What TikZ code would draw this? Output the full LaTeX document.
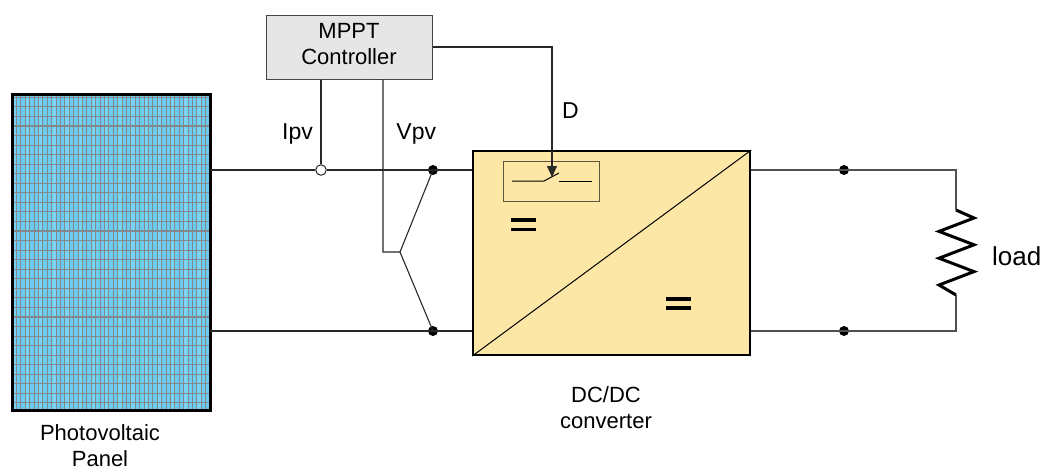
\documentclass[tikz,border=0pt]{standalone}
\usepackage{fontspec}
\setmainfont{Liberation Sans}
\usetikzlibrary{arrows.meta,calc}

\definecolor{pvblue}{RGB}{120,212,245}
\definecolor{pvband}{RGB}{108,204,240}
\definecolor{gridgray}{RGB}{132,136,140}
\definecolor{convfill}{RGB}{253,231,166}
\definecolor{ctrlfill}{RGB}{230,230,230}
\definecolor{ctrledge}{RGB}{70,70,70}
\definecolor{swedge}{RGB}{95,85,60}
\definecolor{wirecol}{RGB}{40,40,40}
\definecolor{wiregray}{RGB}{80,80,80}

\begin{document}
\begin{tikzpicture}[x=1pt,y=-1pt,
  wire/.style={draw=wirecol, line width=1.1},
  rwire/.style={draw=wiregray, line width=1.1},
  lbl/.style={font=\fontsize{23}{27}\selectfont, inner sep=0},
  captext/.style={font=\fontsize{22}{26}\selectfont, inner sep=0},
  soliddot/.style={circle, fill=black, inner sep=0, minimum size=10},
  opendot/.style={circle, draw=wirecol, fill=white, line width=1, inner sep=0, minimum size=10.5},
  eqbar/.style={fill=black}]

\useasboundingbox (0,0) rectangle (1046,469);

% photovoltaic panel with its cell grid
\node[fill=pvblue, minimum width=198, minimum height=316,
      inner sep=0, anchor=north west] (panel) at (12,94) {};
\begin{scope}
  \clip (panel.north west) rectangle (panel.south east);
  \foreach \i in {0,3,...,42}
    \fill[pvband] ({16.3+4.4*\i},94) rectangle ++(8.8,316);
  \foreach \i in {0,...,43}
    \draw[gridgray, line width=0.5] ({16.3+4.4*\i},94) -- ++(0,316);
  \foreach \j in {0,...,32}
    \draw[gridgray, line width=1.1] (12,{97.3+9.55*\j}) -- ++(198,0);
\end{scope}
\draw[line width=3] (panel.north west) rectangle (panel.south east);
\node[captext, anchor=base] (pvlbl) at (100,440.7) {Photovoltaic};
\node[captext, anchor=base] (pvlbl2) at (100,466) {Panel};

% MPPT controller
\node[draw=ctrledge, fill=ctrlfill, line width=1, minimum width=166, minimum height=64,
      align=center, captext] (mppt) at (349,47)
      {MPPT\\Controller\rule[-6pt]{0pt}{6pt}};

% DC/DC converter block
\node[draw=black, line width=2, fill=convfill, minimum width=277, minimum height=204,
      inner sep=0, anchor=north west] (conv) at (472.3,150) {};
\draw[line width=1] (conv.south west) -- (conv.north east);
\node[captext, anchor=base] (convlbl) at (606,402) {DC/DC};
\node[captext, anchor=base] (convlbl2) at (606,428) {converter};

% "=" symbols
\fill[eqbar] (511,218.3) rectangle (536,221.9);
\fill[eqbar] (511,227.7) rectangle (536,231.3);
\fill[eqbar] (665.7,296.7) rectangle (691,300.5);
\fill[eqbar] (665.7,306.2) rectangle (691,310);

% switch inside the converter
\node[draw=swedge, line width=1.2, minimum width=96, minimum height=40,
      inner sep=0, anchor=north west] (swbox) at (503,161) {};
\coordinate (swl) at (512,181);
\coordinate (swa) at (544,181);
\coordinate (swb) at (559,173);
\coordinate (swc) at (559,181);
\coordinate (swr) at (592,181);
\draw[line width=1] (swl) -- (swa) -- (swb);
\draw[line width=1] (swc) -- (swr);

% junction points
\node[opendot] (ipvpt) at (321,170) {};
\node[soliddot] (vt) at (433,170) {};
\node[soliddot] (vb) at (433,331) {};
\coordinate (vj) at (400,252);
\coordinate (vc) at (383,252);
\coordinate (dtip) at (552,177);

% panel to converter
\draw[wire] (panel.east |- ipvpt) -- (ipvpt.west);
\draw[wire] (ipvpt.east) -- (vt.center) -- (vt -| conv.west);
\draw[wire] (panel.east |- vb) -- (vb.center) -- (vb -| conv.west);

% measurement and control lines
\draw[wire] (ipvpt |- mppt.south) -- (ipvpt.north);
\draw[wire] (vc |- mppt.south) -- (vc) -- (vj) -- (vt.center);
\draw[wire] (vj) -- (vb.center);
\draw[wire, -{Triangle[length=11,width=10]}] (mppt.east) -| (dtip);

\node[lbl, anchor=base] (ipvlbl) at (297.5,139) {Ipv};
\node[lbl, anchor=base] (vpvlbl) at (416.3,139) {Vpv};
\node[lbl, anchor=base] (dlbl) at (570.5,118) {D};

% output side and load
\node[soliddot] (ot) at (844,170) {};
\node[soliddot] (ob) at (844,331) {};
\coordinate (rt) at (956,170);
\coordinate (rb) at (956,331);
\coordinate (ztop) at (956,210);
\coordinate (zbot) at (956,295);
\draw[rwire] (conv.east |- ot) -- (ot.center) -- (rt) -- (ztop);
\draw[rwire] (conv.east |- ob) -- (ob.center) -- (rb) -- (zbot);
\draw[line width=3, line join=miter] (ztop) -- (974,218) -- (939,231.4) -- (974,244.8)
      -- (939,258.2) -- (974,271.6) -- (939,285) -- (zbot);
\node[font=\fontsize{26}{30}\selectfont, inner sep=0, anchor=base west] (loadlbl)
      at (992,265) {load};

\end{tikzpicture}
\end{document}
